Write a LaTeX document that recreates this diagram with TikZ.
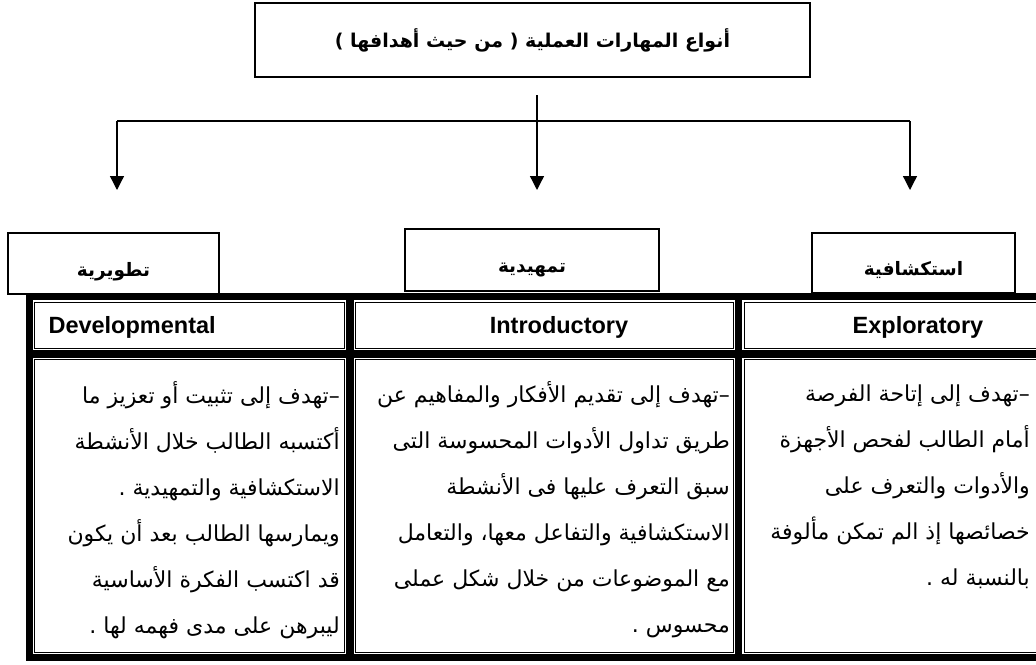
\documentclass[tikz,border=0pt]{standalone}
\usepackage{fontspec}
\setmainfont{Liberation Sans}
\newfontfamily\arabicfont[Script=Arabic]{DejaVu Sans}
\TeXXeTstate=1
\usetikzlibrary{arrows.meta}
\newcommand{\artxt}[1]{{\arabicfont\rule{0pt}{20pt}\beginR #1\endR}}

\begin{document}
\begin{tikzpicture}[x=1pt,y=-1pt,
  titlebox/.style={draw,line width=2.5pt,minimum width=555pt,minimum height=74pt,
    font=\bfseries\fontsize{19}{22}\selectfont},
  kindbox/.style={draw,line width=2pt,fill=white,text height=25pt,text depth=0pt,
    font=\bfseries\fontsize{18.5}{22}\selectfont},
  conn/.style={line width=1.3pt},
  frame/.style={line width=6.5pt},
  cellline/.style={line width=0.9pt},
  hdr/.style={font=\bfseries\fontsize{23.5}{28}\selectfont},
  body/.style={anchor=north east,align=right,inner sep=0pt,font=\fontsize{22}{46}\selectfont}]
  \useasboundingbox (0,0) rectangle (1036,664);
  \clip (0,0) rectangle (1036,664);
  \node[titlebox] (title) at (532.5,40) {\artxt{أنواع المهارات العملية ( من حيث أهدافها )}};
  \coordinate (hub) at (537,95);
  \coordinate (bar) at (537,121);
  \coordinate (barL) at (117,121);
  \coordinate (barR) at (910,121);
  \draw[conn] (hub) -- (bar);
  \draw[conn] (barL) -- (barR);
  \foreach \n/\x in {L/117,M/537,R/910}{
    \coordinate (tip\n) at (\x,190);
    \draw[conn,-{Triangle[length=14pt,width=14pt]}] (\x,121) -- (tip\n);
  }
  \node[kindbox,minimum width=211pt,minimum height=61pt] (dev) at (113.5,263.5) {\artxt{تطويرية}};
  \node[kindbox,minimum width=254pt,minimum height=62pt] (intro) at (532,260) {\artxt{تمهيدية}};
  \node[kindbox,minimum width=203pt,minimum height=60pt] (expl) at (913.5,263) {\artxt{استكشافية}};
  % table
  \draw[frame] (1060,296.5) -- (29,296.5) -- (29,657.5) -- (1060,657.5);
  \draw[frame] (29,354) -- (1060,354);
  \draw[frame] (350,296.5) -- (350,657.5);
  \draw[frame] (738.5,296.5) -- (738.5,657.5);
  \foreach \xa/\xb in {29/350,350/738.5,738.5/1060}
    \foreach \ya/\yb in {296.5/354,354/657.5}
      \draw[cellline,white] (\xa+3.25,\ya+3.25) rectangle (\xb-3.25,\yb-3.25)
        [black] (\xa+5.5,\ya+5.5) rectangle (\xb-5.5,\yb-5.5);
  \node[hdr,anchor=west] (devE) at (45,327) {Developmental};
  \node[hdr] (introE) at (559,327) {Introductory};
  \node[hdr] (explE) at (918,327) {Exploratory};
  \node[body] (devT) at (340,381) {\artxt{–تهدف إلى تثبيت أو تعزيز ما}\\
    \artxt{أكتسبه الطالب خلال الأنشطة}\\
    \artxt{الاستكشافية والتمهيدية .}\\
    \artxt{ويمارسها الطالب بعد أن يكون}\\
    \artxt{قد اكتسب الفكرة الأساسية}\\
    \artxt{ليبرهن على مدى فهمه لها .}};
  \node[body] (introT) at (730,381) {\artxt{–تهدف إلى تقديم الأفكار والمفاهيم عن}\\
    \artxt{طريق تداول الأدوات المحسوسة التى}\\
    \artxt{سبق التعرف عليها فى الأنشطة}\\
    \artxt{الاستكشافية والتفاعل معها، والتعامل}\\
    \artxt{مع الموضوعات من خلال شكل عملى}\\
    \artxt{محسوس .}};
  \node[body] (explT) at (1030,381) {\artxt{–تهدف إلى إتاحة الفرصة}\\
    \artxt{أمام الطالب لفحص الأجهزة}\\
    \artxt{والأدوات والتعرف على}\\
    \artxt{خصائصها إذ الم تمكن مألوفة}\\
    \artxt{بالنسبة له .}};
\end{tikzpicture}
\end{document}
